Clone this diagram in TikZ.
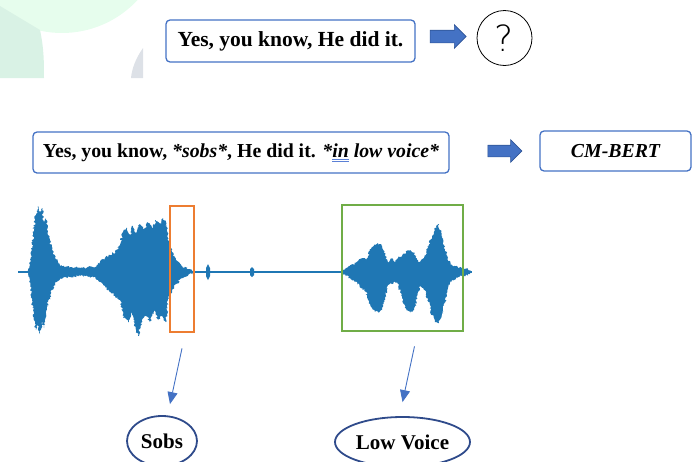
\documentclass[tikz,border=0pt]{standalone}
\usepackage{fontspec}
\setmainfont{Liberation Serif}
\newfontfamily\qmarkfont{DejaVu Sans ExtraLight}
\usepackage{xcolor}
\usetikzlibrary{shapes.arrows}
\usetikzlibrary{shapes.geometric}
\usetikzlibrary{arrows.meta}
\usetikzlibrary{decorations.pathmorphing}

\definecolor{boxblue}{HTML}{4472C4}
\definecolor{arrowedge}{HTML}{2F5597}
\definecolor{wave}{HTML}{1F77B4}
\definecolor{sobsorange}{HTML}{ED7D31}
\definecolor{voicegreen}{HTML}{70AD47}
\definecolor{ovalnavy}{HTML}{2F4B8B}
\definecolor{bglight}{HTML}{E6FDED}
\definecolor{bgmint}{HTML}{D9F2E5}
\definecolor{bggray}{HTML}{DDE1E7}
\definecolor{wavyblue}{HTML}{5B80D6}

% double underline as left by a grammar check
\newcommand{\dblunder}[1]{\setbox0\hbox{#1}%
    \rlap{\color{wavyblue}\rule[-2.5pt]{\wd0}{0.5pt}}%
    \rlap{\color{wavyblue}\rule[-4.5pt]{\wd0}{0.5pt}}\box0\relax}

\tikzset{
    textbox/.style = {draw = boxblue, line width = 1.3pt, rounded corners = 4pt, inner sep = 0pt},
    fatarrow/.style = {single arrow, fill = boxblue, draw = arrowedge, line width = 0.6pt,
        single arrow head extend = 5.5pt, inner xsep = 0pt, inner ysep = 6pt},
    markbox/.style = {draw = #1, line width = 2.6pt, inner sep = 0pt},
    cue/.style = {ellipse, draw = ovalnavy, line width = 1.8pt, inner sep = 0pt},
    pointer/.style = {boxblue, line width = 0.9pt, -{Triangle[length = 12pt, width = 10pt]}},
}

\begin{document}
\begin{tikzpicture}[x = 1pt, y = -1pt]
    \useasboundingbox (0,0) rectangle (696,461);

    % slide background pieces
    \begin{scope}
        \clip (0,0) rectangle (696,78);
        \fill[bglight] (62,-70) circle (103);
        \fill[bgmint] (0,6) -- (40,30) .. controls (44,48) and (44,64) .. (44,78) -- (0,78) -- cycle;
        \fill[bggray] (143,48) .. controls (136,58) and (132,68) .. (131,78) -- (143,78) -- cycle;
    \end{scope}

    % plain text
    \node[textbox, minimum width = 249pt, minimum height = 42pt] (plain) at (290.5,41)
        {\fontsize{21.5}{25}\selectfont\bfseries Yes, you know, He did it.};
    \node[fatarrow, minimum height = 36pt] (arr1) at (445,36.5) {};
    \node[circle, draw, line width = 0.8pt, minimum size = 55pt, inner sep = 0pt] (unknown) at (504.5,38)
        {\qmarkfont\fontsize{36}{36}\selectfont ?};

    % annotated text
    \node[textbox, minimum width = 416pt, minimum height = 41pt] (annotated) at (241,152.5)
        {\fontsize{19.8}{23}\selectfont\bfseries Yes, you know, \textit{*sobs*}, He did it.
        \textit{*\dblunder{in} low voice*}};
    \node[fatarrow, minimum height = 34pt, inner ysep = 5.5pt] (arr2) at (502,151) {};
    \node[textbox, minimum width = 151pt, minimum height = 40pt] (bert) at (615.5,151)
        {\fontsize{19.8}{23}\selectfont\bfseries\itshape CM-BERT};

    % waveform
    \draw[wave, line width = 2.2pt] (18,272) -- (472,272);
    \fill[wave] (206,268) -- (208,264) -- (210,268) -- (210,276) -- (208,280) -- (206,276) -- cycle;
    \fill[wave] (250,269) -- (252,267) -- (254,269) -- (254,275) -- (252,277) -- (250,275) -- cycle;
    \pgfmathsetseed{7}
    \fill[wave, decorate, decoration = {random steps, segment length = 1.2pt, amplitude = 1.2pt}]
        (28,270) -- (30,265) -- (32,250) -- (34,225) -- (36,215) -- (38,206) -- (40,212) -- (42,208)
        -- (44,222) -- (46,218) -- (48,235) -- (50,240) -- (52,250) -- (55,258) -- (58,262)
        -- (62,266) -- (70,267) -- (80,268) -- (95,267) -- (100,262) -- (105,258) -- (110,255)
        -- (115,252) -- (120,245) -- (123,232) -- (126,228) -- (130,235) -- (133,226) -- (136,233)
        -- (140,224) -- (144,230) -- (148,222) -- (152,228) -- (156,220) -- (160,225) -- (163,218)
        -- (166,222) -- (168,238) -- (172,252) -- (176,260) -- (182,266) -- (188,269) -- (194,271)
        -- (194,273) -- (188,275) -- (182,278) -- (176,284) -- (172,290) -- (168,300) -- (166,322)
        -- (162,316) -- (158,320) -- (154,310) -- (150,322) -- (146,315) -- (142,320) -- (138,336)
        -- (136,330) -- (132,312) -- (128,322) -- (124,318) -- (120,300) -- (115,296) -- (110,292)
        -- (105,286) -- (100,282) -- (95,277) -- (80,276) -- (70,277) -- (62,278) -- (58,281)
        -- (55,284) -- (52,290) -- (50,297) -- (48,302) -- (46,312) -- (44,328) -- (42,322)
        -- (40,334) -- (38,325) -- (36,330) -- (34,320) -- (32,300) -- (30,280) -- (28,274) -- cycle;
    \fill[wave, decorate, decoration = {random steps, segment length = 1.2pt, amplitude = 1.2pt}]
        (342,270) -- (350,266) -- (356,263) -- (362,258) -- (366,260) -- (370,250) -- (374,245)
        -- (378,243) -- (382,246) -- (385,255) -- (388,262) -- (392,258) -- (395,262) -- (398,258)
        -- (402,256) -- (406,252) -- (410,250) -- (414,252) -- (417,260) -- (420,262) -- (424,258)
        -- (428,248) -- (432,236) -- (436,226) -- (438,224) -- (441,232) -- (444,245) -- (448,258)
        -- (452,265) -- (458,268) -- (463,268) -- (470,270)
        -- (470,274) -- (463,276) -- (458,277) -- (452,280) -- (448,288) -- (444,305) -- (441,318)
        -- (438,323) -- (436,322) -- (432,315) -- (428,300) -- (424,288) -- (420,286) -- (417,298)
        -- (414,310) -- (410,313) -- (406,310) -- (402,298) -- (398,284) -- (395,282) -- (392,284)
        -- (388,285) -- (385,298) -- (382,310) -- (378,312) -- (374,310) -- (370,304) -- (366,292)
        -- (362,288) -- (356,282) -- (350,278) -- (342,274) -- cycle;

    % marked regions
    \node[markbox = sobsorange, minimum width = 24pt, minimum height = 126pt] (sobsbox) at (182,269) {};
    \node[markbox = voicegreen, minimum width = 121pt, minimum height = 126pt] (voicebox) at (402.5,268) {};

    % cues
    \node[cue, minimum width = 70pt, minimum height = 50pt] (sobs) at (162,441)
        {\fontsize{21}{24}\selectfont\bfseries Sobs};
    \node[cue, minimum width = 135pt, minimum height = 50pt] (voice) at (402.5,442)
        {\fontsize{21}{24}\selectfont\bfseries Low Voice};

    \draw[pointer] ([yshift = -15pt]sobsbox.south) -- ([xshift = 8pt, yshift = 11pt]sobs.north);
    \draw[pointer] ([xshift = 12pt, yshift = -14pt]voicebox.south) -- ([yshift = 14pt]voice.north);
\end{tikzpicture}
\end{document}
